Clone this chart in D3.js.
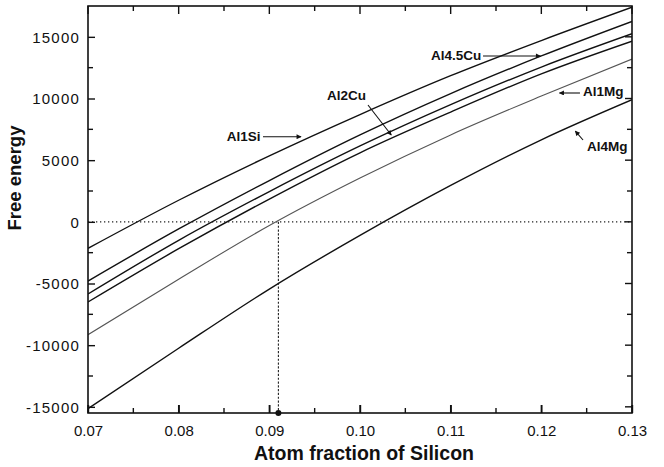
<!DOCTYPE html>
<html>
<head>
<meta charset="utf-8">
<script src="https://cdn.jsdelivr.net/npm/d3@7"></script>
<style>
  html, body { margin: 0; padding: 0; background: #fff; }
  svg { display: block; font-family: "Liberation Sans", Arial, Helvetica, sans-serif; }
</style>
</head>
<body>
<svg id="chart" width="664" height="467"></svg>
<script>
// Silicon atom fraction at which each free-energy curve is sampled
const siFraction = [0.07, 0.08, 0.09, 0.10, 0.11, 0.12, 0.13];

// Free energy of each alloy along siFraction
const al1Si   = [-2150, 1750, 5350, 8700, 11850, 14700, 17400];
const al45Cu  = [-4800, -580, 3350, 7050, 10400, 13450, 16250];
const al2Cu   = [-5850, -1500, 2450, 6150, 9500, 12550, 15250];
const alloyD  = [-6500, -2180, 1850, 5600, 8900, 12000, 14650];
const al1Mg   = [-9150, -4650, -300, 3550, 7050, 10200, 13200];
const al4Mg   = [-15150, -10250, -5450, -1100, 2950, 6650, 9900];

// Axis ticks
const xTickValues = [0.07, 0.08, 0.09, 0.10, 0.11, 0.12, 0.13];
const xTickLabels = ["0.07", "0.08", "0.09", "0.10", "0.11", "0.12", "0.13"];
const yTickValues = [-15000, -10000, -5000, 0, 5000, 10000, 15000];
const yTickLabels = ["-15000", "-10000", "-5000", "0", "5000", "10000", "15000"];

// Marked composition where Al1Mg reaches zero free energy
const markX = 0.091;

const svg = d3.select("#chart");
const margin = { left: 88, right: 32, top: 6, bottom: 54 };
const W = 664, H = 467;

const x = d3.scaleLinear().domain([0.07, 0.13]).range([margin.left, W - margin.right]);
const y = d3.scaleLinear().domain([-15500, 17500]).range([H - margin.bottom, margin.top]);

const x0 = x.range()[0], x1 = x.range()[1];
const y0 = y.range()[0], y1 = y.range()[1];

const series = [
  { values: al1Si,  color: "#111", width: 1.4 },
  { values: al45Cu, color: "#111", width: 1.4 },
  { values: al2Cu,  color: "#111", width: 1.4 },
  { values: alloyD, color: "#111", width: 1.4 },
  { values: al1Mg,  color: "#555", width: 1.1 },
  { values: al4Mg,  color: "#111", width: 1.4 }
];

const line = d3.line()
  .x((d, i) => x(siFraction[i]))
  .y(d => y(d))
  .curve(d3.curveMonotoneX);

svg.append("clipPath").attr("id", "plot-clip")
  .append("rect").attr("x", x0).attr("y", y1).attr("width", x1 - x0).attr("height", y0 - y1);

// Reference lines: zero free energy and the marked composition
svg.append("line")
  .attr("x1", x0).attr("x2", x1).attr("y1", y(0)).attr("y2", y(0))
  .attr("stroke", "#222").attr("stroke-width", 1.2).attr("stroke-dasharray", "1.3,2.7");
svg.append("line")
  .attr("x1", x(markX)).attr("x2", x(markX)).attr("y1", y(0)).attr("y2", y0)
  .attr("stroke", "#222").attr("stroke-width", 1.1).attr("stroke-dasharray", "2.2,1.6");

// Curves
svg.append("g").attr("clip-path", "url(#plot-clip)")
  .selectAll("path").data(series).join("path")
  .attr("d", d => line(d.values))
  .attr("fill", "none")
  .attr("stroke", d => d.color)
  .attr("stroke-width", d => d.width);

// Axes: ticks point inward on all four sides
const xMinor = d3.range(0.07, 0.1300001, 0.005);
const yMinor = d3.range(-15000, 17500, 2500);

const bottomAxis = d3.axisBottom(x).tickValues(xTickValues).tickFormat((d, i) => xTickLabels[i]).tickSizeInner(-8).tickSizeOuter(0).tickPadding(12);
const leftAxis = d3.axisLeft(y).tickValues(yTickValues).tickFormat((d, i) => yTickLabels[i]).tickSizeInner(-7).tickSizeOuter(0).tickPadding(8);

const gx = svg.append("g").attr("transform", `translate(0,${y0})`).call(bottomAxis);
const gy = svg.append("g").attr("transform", `translate(${x0},0)`).call(leftAxis);
[gx, gy].forEach(g => {
  g.select(".domain").remove();
  g.selectAll(".tick line").attr("stroke", "#111").attr("stroke-width", 1.4);
  g.selectAll(".tick text").attr("fill", "#111").attr("font-size", 15)
    .attr("font-family", "'Liberation Sans', Arial, sans-serif");
});
gy.selectAll(".tick text").attr("letter-spacing", 1.2).attr("dy", "0.36em");

// Minor ticks and mirrored ticks on top/right
const tickG = svg.append("g").attr("stroke", "#111").attr("stroke-width", 1.4);
xMinor.forEach((v, i) => {
  const major = i % 2 === 0;
  const len = major ? 8 : 5;
  tickG.append("line").attr("x1", x(v)).attr("x2", x(v)).attr("y1", y0).attr("y2", y0 - len);
  tickG.append("line").attr("x1", x(v)).attr("x2", x(v)).attr("y1", y1).attr("y2", y1 + len);
});
yMinor.forEach((v, i) => {
  const major = i % 2 === 0;
  const len = major ? 7 : 5;
  if (!major) tickG.append("line").attr("x1", x0).attr("x2", x0 + len).attr("y1", y(v)).attr("y2", y(v));
  tickG.append("line").attr("x1", x1).attr("x2", x1 - len).attr("y1", y(v)).attr("y2", y(v));
});

// Frame
svg.append("rect").attr("x", x0).attr("y", y1).attr("width", x1 - x0).attr("height", y0 - y1)
  .attr("fill", "none").attr("stroke", "#111").attr("stroke-width", 1.6);

// Marker dot on the composition axis
svg.append("circle").attr("cx", x(markX)).attr("cy", y0).attr("r", 3).attr("fill", "#111");

// Axis titles
svg.append("text").attr("x", 364).attr("y", 460).attr("text-anchor", "middle")
  .attr("font-size", 19.5).attr("font-weight", "bold").attr("fill", "#111")
  .text("Atom fraction of Silicon");
svg.append("text").attr("transform", "translate(21,178) rotate(-90)").attr("text-anchor", "middle")
  .attr("font-size", 18.5).attr("font-weight", "bold").attr("fill", "#111")
  .text("Free energy");

// Arrowhead
svg.append("defs").append("marker")
  .attr("id", "arrow").attr("viewBox", "0 0 10 10").attr("refX", 9).attr("refY", 5)
  .attr("markerWidth", 7).attr("markerHeight", 5).attr("markerUnits", "userSpaceOnUse")
  .attr("orient", "auto")
  .append("path").attr("d", "M0,0 L10,5 L0,10 Z").attr("fill", "#111");

// Curve annotations (text anchor + arrow, in data units)
const annotations = [
  { text: "Al1Si",   tx: 0.0853,  ty: 6550,  from: [0.0893, 6900],  to: [0.0935, 6900] },
  { text: "Al2Cu",   tx: 0.09636, ty: 9880,  from: [0.10088, 9470], to: [0.10345, 7040] },
  { text: "Al4.5Cu", tx: 0.10783, ty: 13120, from: [0.11357, 13450], to: [0.11990, 13450] },
  { text: "Al1Mg",   tx: 0.1246,  ty: 10200, from: [0.12426, 10446], to: [0.12200, 10446] },
  { text: "Al4Mg",   tx: 0.12504, ty: 5743,  from: [0.12460, 6635],  to: [0.12375, 7360] }
];
const ann = svg.append("g");
annotations.forEach(a => {
  ann.append("text").attr("x", x(a.tx)).attr("y", y(a.ty))
    .attr("font-size", 13.5).attr("font-weight", "bold").attr("fill", "#111").text(a.text);
  ann.append("line")
    .attr("x1", x(a.from[0])).attr("y1", y(a.from[1]))
    .attr("x2", x(a.to[0])).attr("y2", y(a.to[1]))
    .attr("stroke", "#111").attr("stroke-width", 1.1)
    .attr("marker-end", "url(#arrow)");
});
</script>
</body>
</html>
